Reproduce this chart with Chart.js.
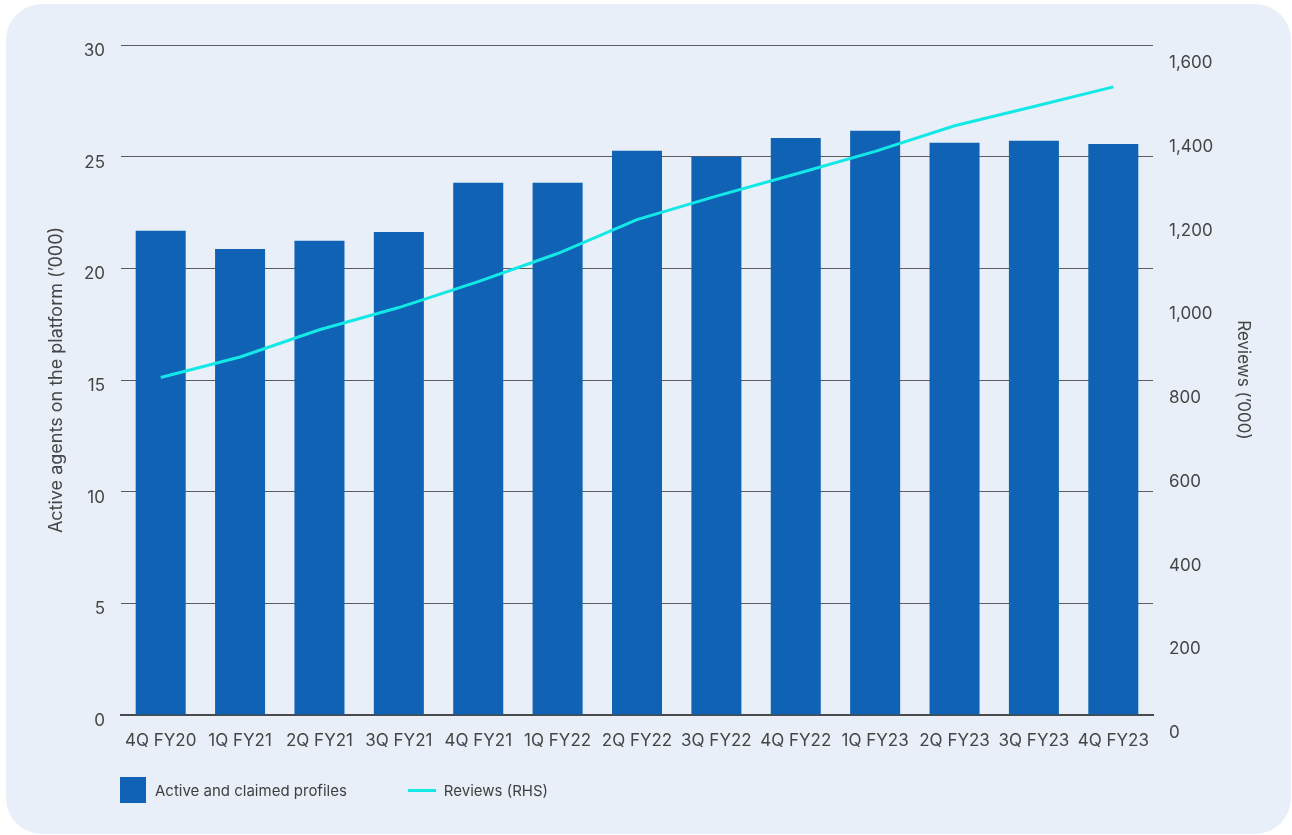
<!DOCTYPE html>
<html>
<head>
<meta charset="utf-8">
<title>Active agents and reviews</title>
<script src="https://cdn.jsdelivr.net/npm/chart.js@4.4.0/dist/chart.umd.min.js"></script>
<style>
  html, body { margin: 0; padding: 0; background: #ffffff; }
  body {
    width: 1292px; height: 835px; position: relative; overflow: hidden;
    font-family: Inter, "Noto Sans", sans-serif;
  }
  .card {
    position: absolute; left: 6px; top: 4px; width: 1285px; height: 830px;
    background: #e8eff8; border-radius: 36px;
  }
  .chart-box { position: absolute; left: 0; top: 0; width: 1292px; height: 835px; }
  #legend {
    position: absolute; left: 120px; top: 777px; height: 26px;
    display: flex; align-items: center; font-size: 15px; color: #3f3f3f;
  }
  .legend-item { display: flex; align-items: center; margin-right: 61px; }
  .swatch-bar { width: 26px; height: 26px; margin-right: 9px; }
  .swatch-line { width: 28px; height: 3px; margin-right: 8px; }
</style>
</head>
<body>
<div class="card"></div>
<div class="chart-box"><canvas id="agentsChart" width="1292" height="835"></canvas></div>
<div id="legend"></div>

<script>
  // --- Data ---
  const quarters = [
    "4Q FY20", "1Q FY21", "2Q FY21", "3Q FY21", "4Q FY21", "1Q FY22", "2Q FY22",
    "3Q FY22", "4Q FY22", "1Q FY23", "2Q FY23", "3Q FY23", "4Q FY23",
  ];
  // active and claimed agent profiles ('000)
  const agentProfiles = [
    21.68, 20.87, 21.23, 21.63, 23.83, 23.83, 25.26,
    25.0, 25.84, 26.16, 25.62, 25.71, 25.57,
  ];
  // reviews ('000), right-hand axis
  const reviews = [
    849, 898, 963, 1016, 1078, 1145, 1226,
    1282, 1335, 1389, 1450, 1496, 1543,
  ];
  const agentTicks = [0, 5, 10, 15, 20, 25, 30];
  const reviewTicks = [0, 200, 400, 600, 800, 1000, 1200, 1400, 1600];

  const BAR_BLUE = "#0f62b4";
  const LINE_CYAN = "#12e8e6";
  const TEXT_GREY = "#454545";
  const FONT = "Inter, 'Noto Sans', sans-serif";

  const chart = new Chart(document.getElementById("agentsChart"), {
    type: "bar",
    data: {
      labels: quarters,
      datasets: [
        {
          label: "Active and claimed profiles",
          data: agentProfiles,
          backgroundColor: BAR_BLUE,
          categoryPercentage: 1,
          barPercentage: 0.63,
          yAxisID: "y",
          order: 1,
        },
        {
          type: "line",
          label: "Reviews (RHS)",
          data: reviews,
          borderColor: LINE_CYAN,
          backgroundColor: LINE_CYAN,
          borderWidth: 3,
          pointRadius: 0,
          tension: 0,
          yAxisID: "y1",
          order: 0,
        },
      ],
    },
    options: {
      responsive: false,
      animation: false,
      layout: { padding: { top: 45, left: 0, right: 0, bottom: 0 } },
      plugins: {
        legend: { display: false },
        tooltip: { enabled: false },
      },
      scales: {
        x: {
          grid: { display: false, drawTicks: false },
          border: { display: true, color: "#4a4a4a", width: 2 },
          ticks: {
            color: TEXT_GREY,
            font: { family: FONT, size: 17 },
            padding: 16,
            maxRotation: 0,
            autoSkip: false,
          },
          afterFit: (scale) => { scale.height = 120; },
        },
        y: {
          position: "left",
          min: 0,
          max: 30,
          afterBuildTicks: (scale) => {
            scale.ticks = agentTicks.map((value) => ({ value }));
          },
          grid: { color: "#5c5c5c", lineWidth: 1, drawTicks: false },
          border: { display: false },
          ticks: {
            color: TEXT_GREY,
            font: { family: FONT, size: 17 },
            padding: 16,
            labelOffset: 6,
          },
          title: {
            display: true,
            text: "Active agents on the platform (\u2019000)",
            color: TEXT_GREY,
            font: { family: FONT, size: 18 },
            padding: { top: 46, bottom: 0 },
          },
          afterFit: (scale) => { scale.width = 121; },
        },
        y1: {
          position: "right",
          // axis labels sit a little below the shared gridlines
          min: 43,
          max: 1643,
          afterBuildTicks: (scale) => {
            scale.ticks = reviewTicks.map((value) => ({ value }));
          },
          grid: { display: false, drawTicks: false },
          border: { display: false },
          ticks: {
            color: TEXT_GREY,
            font: { family: FONT, size: 17 },
            padding: 16,
            callback: (value) => value.toLocaleString("en-US"),
          },
          title: {
            display: true,
            text: "Reviews (\u2019000)",
            color: TEXT_GREY,
            font: { family: FONT, size: 17 },
            padding: { top: 39, bottom: 0 },
          },
          afterFit: (scale) => { scale.width = 139; },
        },
      },
    },
  });

  // --- Legend ---
  const legendEl = document.getElementById("legend");
  chart.data.datasets.forEach((ds) => {
    const item = document.createElement("div");
    item.className = "legend-item";
    const swatch = document.createElement("span");
    swatch.className = ds.type === "line" ? "swatch-line" : "swatch-bar";
    swatch.style.background = ds.type === "line" ? ds.borderColor : ds.backgroundColor;
    const text = document.createElement("span");
    text.textContent = ds.label;
    item.appendChild(swatch);
    item.appendChild(text);
    legendEl.appendChild(item);
  });
</script>
</body>
</html>
